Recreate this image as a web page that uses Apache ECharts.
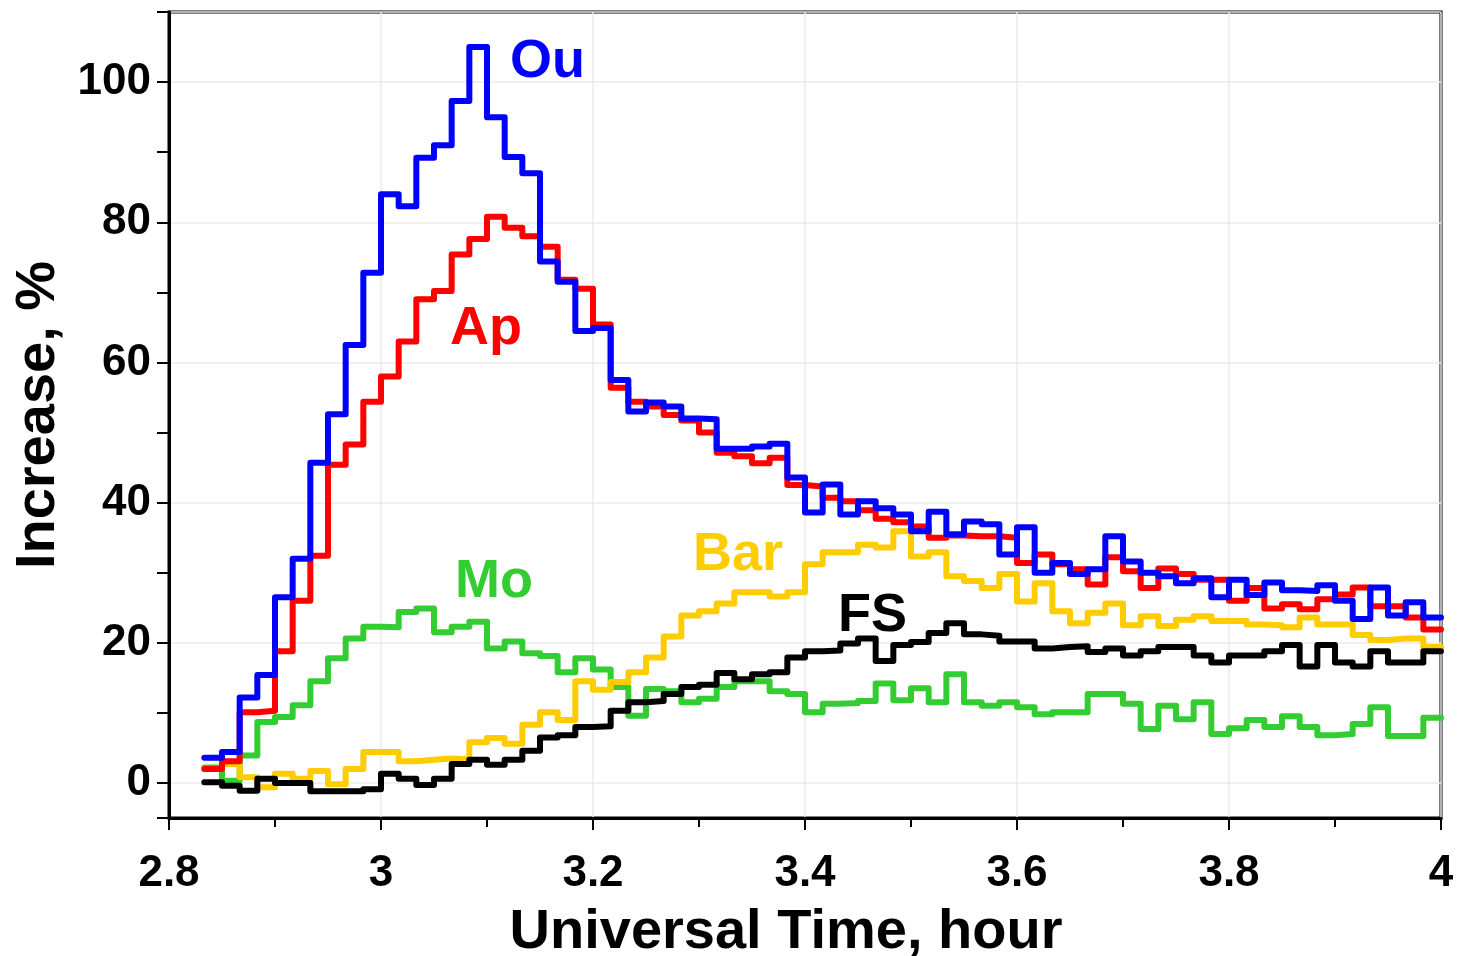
<!DOCTYPE html>
<html><head><meta charset="utf-8">
<script src="https://cdn.jsdelivr.net/npm/echarts@6/dist/echarts.min.js"></script>
<style>html,body{margin:0;padding:0;background:#fff}#c{width:1461px;height:956px}</style>
</head><body><div id="c"></div>
<script>
// UT minute marks (bin edges), 1-minute bins from 2:50 to 4:00
const minutesUT = [170,171,172,173,174,175,176,177,178,179,180,181,182,183,184,185,186,187,188,189,
  190,191,192,193,194,195,196,197,198,199,200,201,202,203,204,205,206,207,208,209,
  210,211,212,213,214,215,216,217,218,219,220,221,222,223,224,225,226,227,228,229,
  230,231,232,233,234,235,236,237,238,239,240];

const ou = [3.6,4.4,12.2,15.4,26.5,32,45.7,52.6,62.5,72.8,84,82.3,89.2,91,97.3,105,95,89.3,87,74.4,
  71.5,64.5,64.9,57.5,53,54.3,53.7,52,51.9,47.7,47.7,48,48.4,43.6,38.6,42.6,38.3,40.2,39.2,38.3,
  35.9,38.7,35.5,37.3,36.9,32.6,36.5,30,31.4,29.8,30.5,35.2,31.6,30,29.5,28.5,29.2,26.5,29,26.8,
  28.6,27.5,27.4,28.2,26,23.4,27.9,23.9,25.8,23.6];
const ap = [2.0,3.1,10.1,10.3,18.8,26,32.4,45.4,48.3,54.4,58,63,69,70.2,75.4,77.6,80.8,79.2,78,76.5,
  71.8,70.5,65.4,56.4,54.4,53.7,52.5,51.7,50,47.1,46.6,45.6,46.4,42.5,42.3,40.7,40.2,38.9,37.7,37.2,
  36.6,35,35.3,35.2,35.2,35.0,31.4,32.6,31.2,30.5,28.3,32.2,30.2,27.8,30.6,29.8,29,29,26,27.8,
  24.9,25.5,24.8,26.2,26.9,27.9,25.2,25.2,23.6,21.9];
const mo = [2.2,0.3,3.9,8.7,9.4,11.1,14.5,17.8,20.6,22.3,22.2,24.4,24.9,21.5,22.3,23,19.2,20.2,18.5,18.1,
  15.8,17.8,16.2,13.7,9.6,13.4,13.1,11.5,12,13.7,14.5,14.5,13.1,12.7,10.1,11.3,11.4,11.7,14.2,11.8,
  13.5,11.5,15.5,11.5,11,11.5,10.8,9.8,10.1,10.1,12.7,12.7,11.3,7.7,11,9.1,11.5,7,7.8,9,
  8,9.5,8,6.8,7,8.4,10.8,6.7,6.7,9.3];
const bar = [2.0,2.7,0.8,-0.6,1.3,0.6,1.7,-0.2,2,4.4,4.4,3.1,3.3,3.5,3.4,5.8,6.4,5.6,8.3,10.1,
  9,14.5,13.3,14.4,15.8,17.9,20.9,23.9,24.5,25.6,27.2,27.2,26.6,27.2,31.2,32.9,32.9,34,33.6,35.9,
  32.3,32.9,29.5,28.8,27.8,29.8,25.9,28.5,24.5,22.8,24.3,25.6,22.5,23.8,22.4,23.3,23.8,23.1,23.1,22.6,
  22.5,22.2,23.6,22.6,22.6,21.1,20.4,20.6,20.6,19.4];
const fs = [0.1,-0.4,-1.1,0.6,0,0,-1.2,-1.2,-1.2,-0.9,1.3,0.6,-0.3,0.6,2.7,3.3,2.6,3.3,4.6,6.5,
  6.8,8,8.1,10.3,11.5,11.7,12.7,13.7,14,15.7,14.8,15.5,15.8,17.9,18.8,18.9,19.9,20.6,17.4,19.7,
  20.1,21.4,22.8,21.2,21,20.2,20.2,19.2,19.4,19.5,18.7,19.2,18.2,18.8,19.4,19.4,18.2,17.2,18.2,18.2,
  18.8,19.7,16.6,19.7,17.2,16.6,18.8,17.2,17.2,18.8];

const seriesNames = ['Mo','Bar','FS','Ap','Ou'];
const seriesColors = ['#33cc33','#ffcc00','#000000','#ff0000','#0000ff'];
const seriesValues = [mo, bar, fs, ap, ou];

// in-plot text labels: [name, time (hour), value (%)] anchor = left, vertical middle
const labelNames = ['Ou','Ap','Mo','Bar','FS'];
const labelColors = ['#0000ff','#ff0000','#33cc33','#ffcc00','#000000'];
const labelAnchors = [[3.1217,102.8],[3.065,64.8],[3.0698,28.7],[3.2943,32.5],[3.4311,23.8]];

const xTickMin = 2.8, xTickMax = 4, xTickStep = 0.2;
const yMin = -5, yMax = 110, yLabelStep = 20;

function toPts(vals){
  const pts = vals.map((v,i)=>[minutesUT[i]/60, v]);
  pts.push([minutesUT[vals.length]/60, vals[vals.length-1]]);
  return pts;
}

const FONT = '"Liberation Sans", Arial, sans-serif';
const chart = echarts.init(document.getElementById('c'), null, {renderer:'canvas'});
const option = {
  animation:false,
  backgroundColor:'#fff',
  grid:{left:169, right:20, top:12, bottom:138, containLabel:false, outerBoundsMode:'none',
    show:true, borderColor:'#000', borderWidth:3, backgroundColor:'transparent'},
  xAxis:{
    type:'value', min:xTickMin, max:xTickMax, interval:xTickStep,
    name:'Universal Time, hour', nameLocation:'middle', nameGap:87,
    nameTextStyle:{fontFamily:FONT, fontWeight:'bold', fontSize:56, color:'#000', padding:[0,38,0,0]},
    axisLine:{show:true, onZero:false, lineStyle:{color:'#000', width:3}},
    axisTick:{show:true, inside:false, length:12, lineStyle:{color:'#000', width:2}},
    minorTick:{show:true, splitNumber:2, length:9, lineStyle:{color:'#000', width:2}},
    splitLine:{show:true, lineStyle:{color:'#ebebeb', width:1.5}},
    axisLabel:{fontFamily:FONT, fontWeight:'bold', fontSize:44, color:'#000', margin:34,
      formatter:v=>String(Math.round(v*10)/10)}
  },
  yAxis:{
    type:'value', min:yMin, max:yMax, minInterval:yLabelStep, maxInterval:yLabelStep,
    name:'Increase, %', nameLocation:'middle', nameGap:101,
    nameTextStyle:{fontFamily:FONT, fontWeight:'bold', fontSize:56, color:'#000'},
    axisLine:{show:true, onZero:false, lineStyle:{color:'#000', width:3}},
    axisTick:{show:true, inside:false, length:12, lineStyle:{color:'#000', width:2}},
    minorTick:{show:true, splitNumber:2, length:12, lineStyle:{color:'#000', width:2}},
    splitLine:{show:true, lineStyle:{color:'#ebebeb', width:1.5}},
    axisLabel:{fontFamily:FONT, fontWeight:'bold', fontSize:44, color:'#000', margin:18,
      formatter:v=> (Math.abs(v % yLabelStep) < 1e-9 ? String(v) : '')}
  },
  series: seriesNames.map((n,i)=>({
    name:n, type:'line', step:'end', data:toPts(seriesValues[i]),
    showSymbol:false, symbol:'none', clip:true,
    lineStyle:{color:seriesColors[i], width:6, join:'round', cap:'round'},
    itemStyle:{color:seriesColors[i]}, z:2+i
  }))
};
chart.setOption(option);
const graphics = labelNames.map((n,i)=>{
  const p = chart.convertToPixel({gridIndex:0}, labelAnchors[i]);
  return {type:'text', x:p[0], y:p[1], z:100,
    style:{text:n, fill:labelColors[i], font:'bold 54px ' + FONT, textAlign:'left', textVerticalAlign:'middle'}};
});
chart.setOption({graphic:graphics});
</script>
</body></html>
